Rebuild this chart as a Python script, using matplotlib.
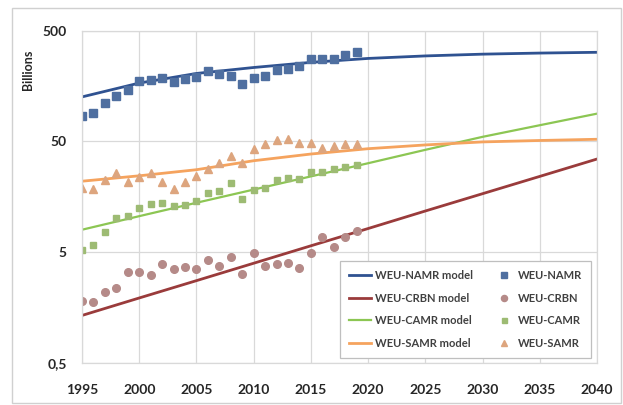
import matplotlib
matplotlib.use('Agg')
import matplotlib.pyplot as plt
from matplotlib.patches import Rectangle
from matplotlib.ticker import FixedLocator, FixedFormatter, NullLocator

# observed years and series (billions)
years = list(range(1995, 2020))
namr = [85, 90, 111, 128, 146, 175, 178, 187, 172, 183, 190, 216, 203, 195, 165,
        187, 195, 220, 225, 240, 277, 277, 277, 300, 320]
crbn = [1.83, 1.79, 2.21, 2.4, 3.3, 3.3, 3.12, 3.9, 3.51, 3.66, 3.53, 4.26, 3.78,
        4.56, 3.19, 4.9, 3.78, 3.92, 4.03, 3.63, 4.95, 6.9, 5.6, 6.9, 7.8]
camr = [5.24, 5.82, 7.67, 10.3, 10.7, 12.45, 13.7, 13.8, 13.1, 13.3, 14.5, 17.1, 17.9,
        20.9, 15.1, 18.4, 19.1, 22.4, 23.2, 22.9, 26.3, 26.3, 28.0, 29.5, 30.6]
samr = [18.9, 18.7, 22.4, 25.7, 21.4, 24.0, 25.7, 21.6, 18.5, 21.6, 24.3, 28.0, 32.1,
        37.1, 31.7, 42.6, 47.3, 51.3, 52.4, 48.6, 48.6, 43.2, 45.6, 47.3, 47.3]

# model curves read every 5 years
model_years = [1995, 2000, 2005, 2010, 2015, 2020, 2025, 2030, 2035, 2040]
namr_model = [126, 168, 205, 232, 258, 280, 295, 306, 313, 318]
crbn_model = [1.35, 1.94, 2.78, 3.99, 5.73, 8.2, 11.8, 16.9, 24.2, 34.7]
camr_model = [8.0, 10.6, 14.0, 18.4, 24.2, 31.8, 42.0, 55.0, 70.0, 89.0]
samr_model = [21.9, 24.5, 27.8, 33.5, 38.5, 43.0, 46.5, 49.5, 51.0, 52.3]

y_ticks = [0.5, 5, 50, 500]
y_labels = ['0,5', '5', '50', '500']
x_ticks = list(range(1995, 2041, 5))

plt.rcParams['font.family'] = ['Lato', 'DejaVu Sans']

fig = plt.figure(figsize=(6.23, 4.05), dpi=100)
ax = fig.add_axes([82 / 623, 1 - 363.3 / 405, 515 / 623, (363.3 - 30.5) / 405])

ax.plot(model_years, namr_model, color='#2F5291', lw=2, label='WEU-NAMR model')
ax.plot(years, namr, 's', color='#4F6FA0', ms=5.5, label='WEU-NAMR')
ax.plot(model_years, crbn_model, color='#9A3B3B', lw=2, label='WEU-CRBN model')
ax.plot(years, crbn, 'o', color='#B58A88', ms=5.5, label='WEU-CRBN')
ax.plot(model_years, camr_model, color='#8CC653', lw=1.6, label='WEU-CAMR model')
ax.plot(years, camr, 's', color='#9DBB73', ms=4.5, label='WEU-CAMR')
ax.plot(model_years, samr_model, color='#F5A35E', lw=2, label='WEU-SAMR model')
ax.plot(years, samr, '^', color='#DDA57E', ms=6, label='WEU-SAMR')

ax.set_yscale('log')
ax.set_ylim(0.5, 500)
ax.set_xlim(1995, 2040)
ax.yaxis.set_major_locator(FixedLocator(y_ticks))
ax.yaxis.set_major_formatter(FixedFormatter(y_labels))
ax.yaxis.set_minor_locator(NullLocator())
ax.set_xticks(x_ticks)
ax.tick_params(length=0, labelsize=10, colors='#262626')
ax.tick_params(axis='x', pad=15)
ax.tick_params(axis='y', pad=11)
for lab in ax.get_xticklabels() + ax.get_yticklabels():
    lab.set_fontweight('bold')

ax.grid(True, color='#D9D9D9', lw=0.9)
ax.set_axisbelow(True)
for s in ax.spines.values():
    s.set_color('#D9D9D9')
    s.set_linewidth(0.9)

fig.text(28 / 623, 1 - 70 / 405, 'Billions', rotation=90, ha='center', va='center',
         fontsize=9, fontweight='bold', color='#262626')

handles, labels = ax.get_legend_handles_labels()
order = [0, 2, 4, 6, 1, 3, 5, 7]
leg = ax.legend([handles[i] for i in order], [labels[i] for i in order], ncol=2,
                loc='lower right', bbox_to_anchor=(1.0, 0.0), fontsize=8,
                frameon=True, fancybox=False, edgecolor='#BFBFBF', framealpha=1,
                handlelength=2.0, handletextpad=0.3, columnspacing=1.8,
                labelspacing=1.05, borderpad=0.8, markerscale=0.8)
leg.get_frame().set_linewidth(0.9)
for t in leg.get_texts():
    t.set_fontweight('bold')
    t.set_color('#404040')

fig.patches.append(Rectangle((12 / 623, 0.005), 609 / 623, 1 - 8 / 405 - 0.005,
                             transform=fig.transFigure, fill=False,
                             edgecolor='#D0D0D0', lw=1))

fig.savefig('out.png', dpi=100)
